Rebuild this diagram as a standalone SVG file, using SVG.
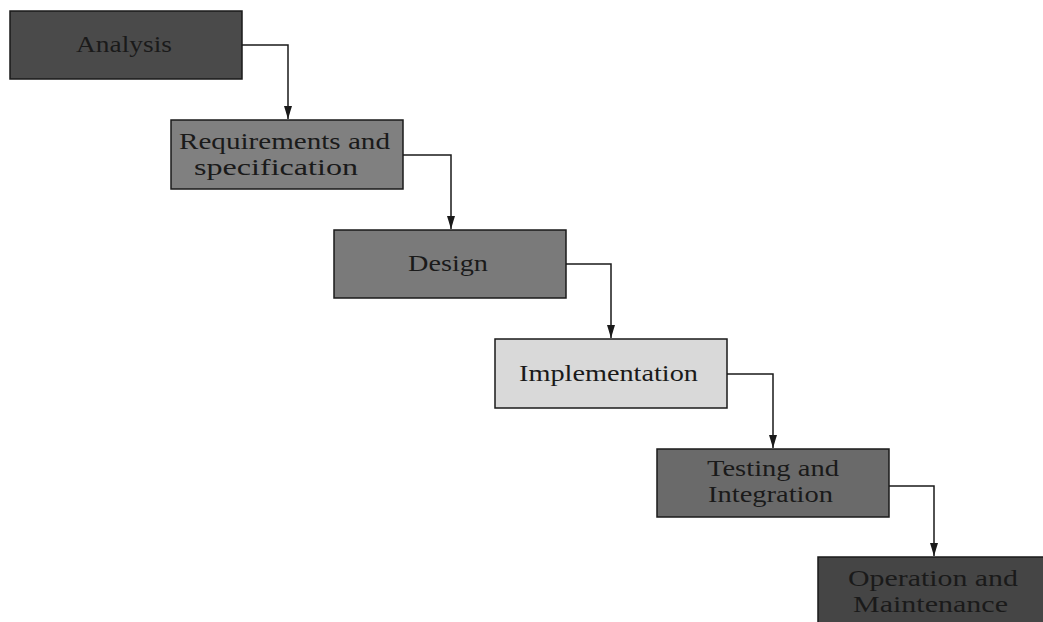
<svg xmlns="http://www.w3.org/2000/svg" width="1043" height="622" viewBox="0 0 1043 622">
<style>
.box{stroke:#1a1a1a;stroke-width:1.5}
.lbl{font-family:"Liberation Serif","Times New Roman",serif;font-size:23px;fill:#1a1a1a;text-anchor:middle}
.conn{fill:none;stroke:#1a1a1a;stroke-width:1.5}
</style>
<defs>
<marker id="arr" markerWidth="13" markerHeight="8" refX="13" refY="4" orient="auto" markerUnits="userSpaceOnUse">
<path d="M0,0 L13,4 L0,8 Z" fill="#1a1a1a"/>
</marker>
</defs>
<rect width="1043" height="622" fill="#ffffff"/>
<g id="connectors">
<path class="conn" d="M242,45 H288 V119" marker-end="url(#arr)"/>
<path class="conn" d="M403,155 H451 V229" marker-end="url(#arr)"/>
<path class="conn" d="M566,264 H611 V338" marker-end="url(#arr)"/>
<path class="conn" d="M727,374 H773 V448" marker-end="url(#arr)"/>
<path class="conn" d="M889,486 H934 V556" marker-end="url(#arr)"/>
</g>
<g id="analysis">
<rect class="box" x="10" y="11" width="232" height="68" fill="#4a4a4a"/>
<text class="lbl" x="124" y="52" textLength="96" lengthAdjust="spacingAndGlyphs">Analysis</text>
</g>
<g id="requirements">
<rect class="box" x="171" y="120" width="232" height="69" fill="#808080"/>
<text class="lbl" x="284.5" y="149" textLength="211" lengthAdjust="spacingAndGlyphs">Requirements and</text>
<text class="lbl" x="276" y="175" textLength="164" lengthAdjust="spacingAndGlyphs">specification</text>
</g>
<g id="design">
<rect class="box" x="334" y="230" width="232" height="68" fill="#7a7a7a"/>
<text class="lbl" x="448" y="271" textLength="80" lengthAdjust="spacingAndGlyphs">Design</text>
</g>
<g id="implementation">
<rect class="box" x="495" y="339" width="232" height="69" fill="#d9d9d9"/>
<text class="lbl" x="608.5" y="381" textLength="179" lengthAdjust="spacingAndGlyphs">Implementation</text>
</g>
<g id="testing">
<rect class="box" x="657" y="449" width="232" height="68" fill="#6a6a6a"/>
<text class="lbl" x="773" y="476" textLength="132" lengthAdjust="spacingAndGlyphs">Testing and</text>
<text class="lbl" x="770.5" y="502" textLength="125" lengthAdjust="spacingAndGlyphs">Integration</text>
</g>
<g id="operation">
<rect class="box" x="818" y="557" width="232" height="70" fill="#454545"/>
<text class="lbl" x="933" y="586" textLength="170" lengthAdjust="spacingAndGlyphs">Operation and</text>
<text class="lbl" x="930.5" y="612" textLength="155" lengthAdjust="spacingAndGlyphs">Maintenance</text>
</g>
</svg>
